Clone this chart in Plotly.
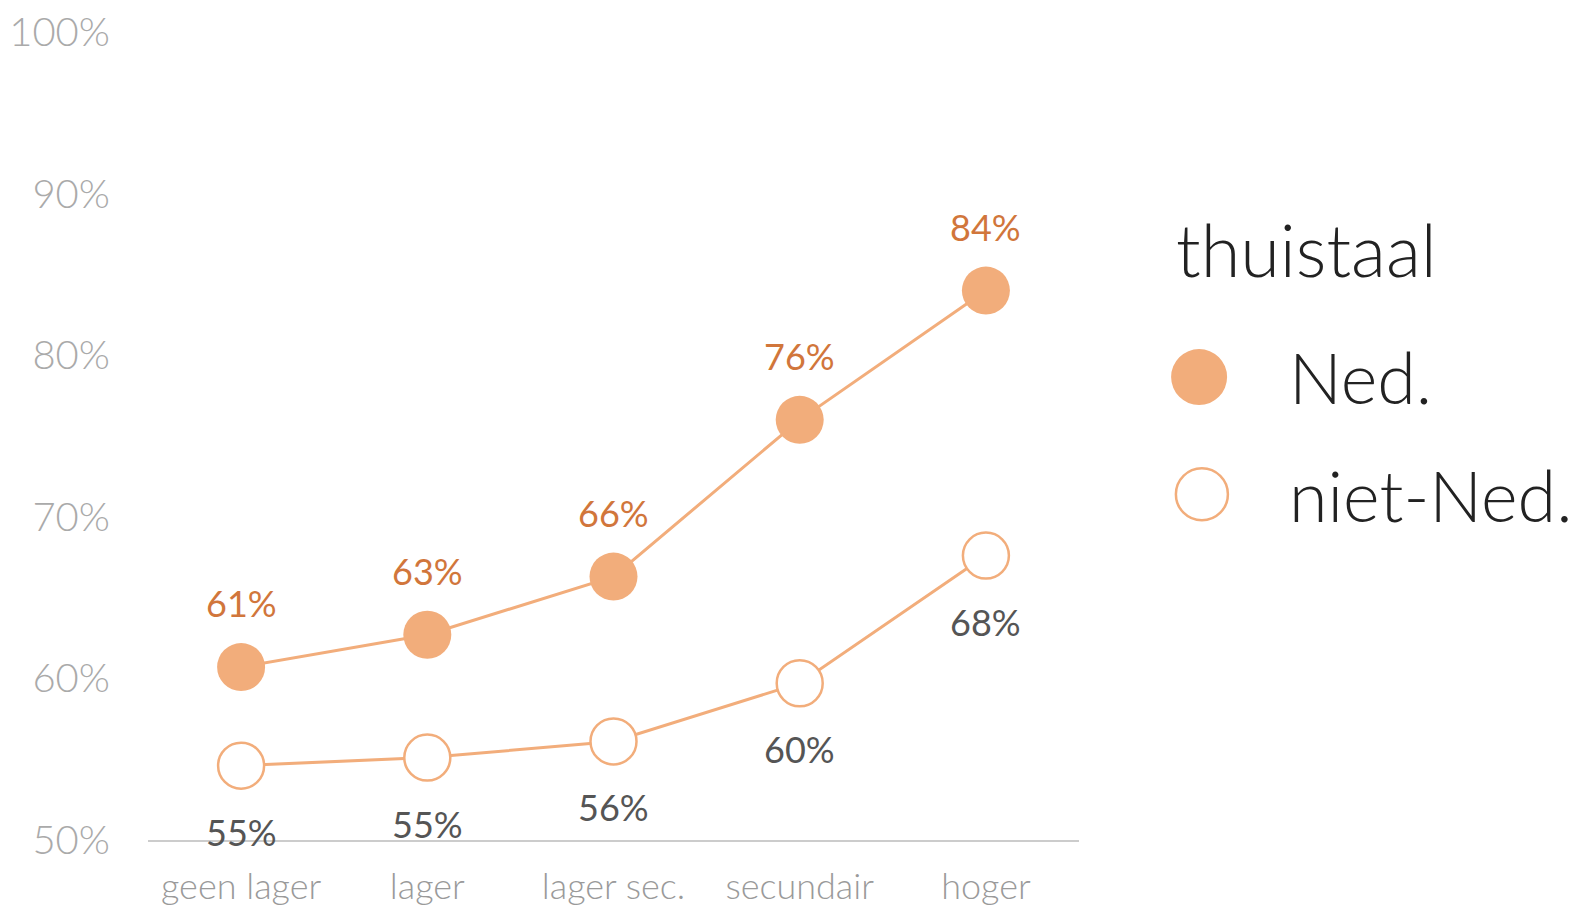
import plotly.graph_objects as go

categories = ["geen lager", "lager", "lager sec.", "secundair", "hoger"]
ned = [60.7, 62.7, 66.3, 76.0, 84.0]
niet_ned = [54.6, 55.1, 56.1, 59.7, 67.6]
y_ticks = [50, 60, 70, 80, 90, 100]
y_tick_labels = [f"{t}%" for t in y_ticks]

ORANGE = "#f2ad7b"
LABEL_ORANGE = "#d1763b"
FONT = "Lato"

fig = go.Figure()
fig.add_trace(go.Scatter(
    x=categories, y=ned, mode="lines+markers", name="Ned.",
    line=dict(color=ORANGE, width=3),
    marker=dict(size=48, color=ORANGE, line=dict(width=0)),
    showlegend=False, cliponaxis=False,
))
fig.add_trace(go.Scatter(
    x=categories, y=niet_ned, mode="lines+markers", name="niet-Ned.",
    line=dict(color=ORANGE, width=3),
    marker=dict(size=46, color="white", line=dict(width=2.5, color=ORANGE)),
    showlegend=False, cliponaxis=False,
))

for c, v in zip(categories, ned):
    fig.add_annotation(x=c, y=v, text=f"{round(v)}%", showarrow=False, yshift=64,
                       font=dict(family=FONT, size=36, color=LABEL_ORANGE))
for c, v in zip(categories, niet_ned):
    fig.add_annotation(x=c, y=v, text=f"{round(v)}%", showarrow=False, yshift=-66,
                       font=dict(family=FONT, size=36, color="#555555"))

# legend drawn manually (large symbols)
fig.add_annotation(xref="paper", yref="paper", x=1.102, y=0.731, xanchor="left", yanchor="middle",
                   text="thuistaal", showarrow=False,
                   font=dict(family=FONT, size=72, color="#222222", weight=300))
fig.add_annotation(xref="paper", yref="paper", x=1.223, y=0.573, xanchor="left", yanchor="middle",
                   text="Ned.", showarrow=False,
                   font=dict(family=FONT, size=70, color="#222222", weight=300))
fig.add_annotation(xref="paper", yref="paper", x=1.223, y=0.427, xanchor="left", yanchor="middle",
                   text="niet-Ned.", showarrow=False,
                   font=dict(family=FONT, size=70, color="#222222", weight=300))
fig.add_shape(type="circle", xref="paper", yref="paper", xsizemode="pixel", ysizemode="pixel",
              xanchor=1.129, yanchor=0.573, x0=-28, x1=28, y0=-28, y1=28,
              fillcolor=ORANGE, line=dict(width=0))
fig.add_shape(type="circle", xref="paper", yref="paper", xsizemode="pixel", ysizemode="pixel",
              xanchor=1.132, yanchor=0.428, x0=-26, x1=26, y0=-26, y1=26,
              fillcolor="white", line=dict(width=2.5, color=ORANGE))

fig.update_layout(
    width=1577, height=910,
    margin=dict(l=148, r=498, t=32, b=70),
    plot_bgcolor="white", paper_bgcolor="white",
    font=dict(family=FONT),
    xaxis=dict(showgrid=False, zeroline=False, showline=True, linecolor="#cccccc", linewidth=2,
               ticks="", tickfont=dict(family=FONT, size=36, color="#9a9a9a", weight=300),
               ticklabelstandoff=14, range=[-0.5, 4.5], automargin=False),
    yaxis=dict(range=[50, 100], showgrid=False, zeroline=False, showline=False,
               tickvals=y_ticks, ticktext=y_tick_labels, ticks="",
               tickfont=dict(family=FONT, size=40, color="#aaaaaa", weight=300),
               ticklabelstandoff=37, automargin=False),
)

# remove the default 8px page margin so the figure fills the window exactly
fig.write_html("out.html", config={"displayModeBar": False},
               post_script="document.body.style.margin='0';")
